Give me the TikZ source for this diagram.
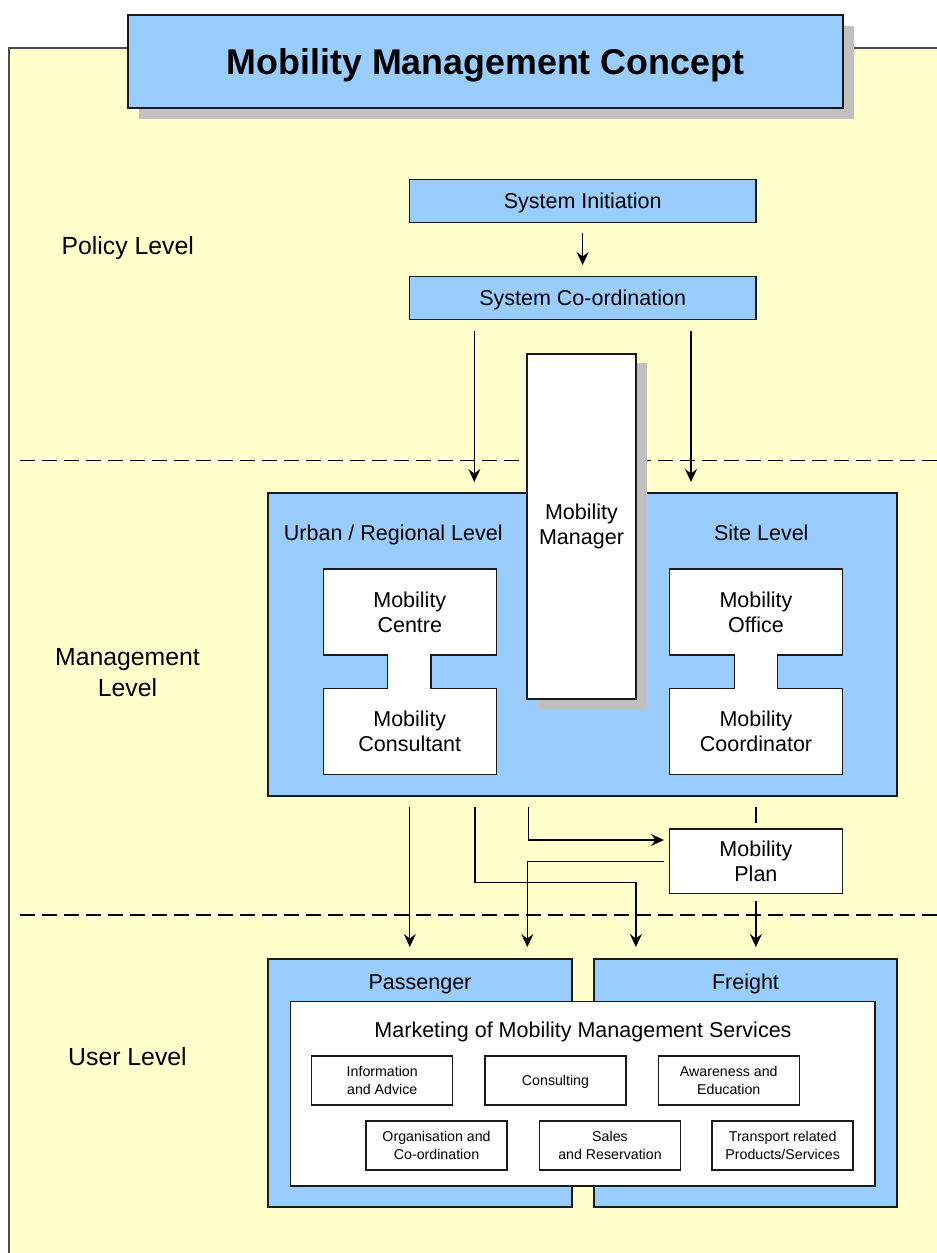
\documentclass[tikz,border=0pt]{standalone}
\usepackage{fontspec}
\setmainfont{Liberation Sans}
\usetikzlibrary{arrows.meta}

\definecolor{paper}{HTML}{FFFFCC}
\definecolor{panel}{HTML}{99CCFF}
\definecolor{dropgray}{HTML}{C0C0C0}
\definecolor{rim}{HTML}{1A1A1A}

\begin{document}
\begin{tikzpicture}[x=1pt,y=-1pt,
  box/.style={draw=rim, line width=1.4pt, inner sep=0pt, outer sep=0pt},
  bluebox/.style={box, fill=panel},
  whitebox/.style={box, fill=white},
  txt/.style={inner sep=0pt, font=\fontsize{21.5}{25}\selectfont, align=center},
  levelname/.style={inner sep=0pt, font=\fontsize{24.8}{31}\selectfont, align=center},
  oneline/.style={text height=15.4pt, text depth=0pt},
  small/.style={inner sep=0pt, font=\fontsize{14.2}{17.5}\selectfont, align=center},
  conn/.style={line width=1.3pt, draw=black},
  arr/.style={conn, -{Stealth[length=13pt,width=12pt,inset=4.5pt]}},
  divider/.style={line width=1.2pt, draw=black, dash pattern=on 15pt off 7pt},
]
\useasboundingbox (0,0) rectangle (937,1253);

% sheet
\fill[paper] (9,48) rectangle (945,1260);
\draw[line width=1.5pt, draw=black!70] (9,1260) -- (9,48) -- (945,48);

% title
\fill[dropgray] (139,26) rectangle (854,119);
\node[bluebox, minimum width=715pt, minimum height=93pt,
      font=\fontsize{35.8}{40}\selectfont\bfseries, text height=25.5pt, text depth=0pt]
  (title) at (485.5,61.5) {Mobility Management Concept};

% level separators
\draw[divider] (20,460.7) -- (945,460.7);
\draw[divider] (20,915) -- (945,915);

% level names
\node[levelname, anchor=base] (policy) at (127.8,254) {Policy Level};
\node[levelname] (mlevel) at (127.5,672.7) {Management\\Level};
\node[levelname, anchor=base] (user) at (127.5,1065.5) {User Level};

% policy level
\node[bluebox, txt, oneline, minimum width=346.7pt, minimum height=43pt]
  (init) at (582.65,200.8) {System Initiation};
\node[bluebox, txt, oneline, minimum width=346.7pt, minimum height=43pt]
  (coord) at (582.65,298.2) {System Co-ordination};
\draw[arr, shorten <=10.7pt, shorten >=11.7pt] (init.south) -- (coord.north);

% management level
\node[bluebox, minimum width=629pt, minimum height=303pt] (mgmt) at (582.5,644.5) {};
\node[txt, anchor=base] (urban) at (393.3,540) {Urban / Regional Level};
\node[txt, anchor=base] (site) at (761.3,540) {Site Level};

\draw[whitebox] (323.3,569) -- (496.3,569) -- (496.3,655) -- (431,655) -- (431,688.3)
  -- (496.3,688.3) -- (496.3,774.3) -- (323.3,774.3) -- (323.3,688.3) -- (387.7,688.3)
  -- (387.7,655) -- (323.3,655) -- cycle;
\node[txt] (centre) at (409.8,612) {Mobility\\Centre};
\node[txt] (consultant) at (409.8,731.3) {Mobility\\Consultant};

\draw[whitebox] (669.3,569) -- (842.7,569) -- (842.7,655) -- (777.3,655) -- (777.3,688.3)
  -- (842.7,688.3) -- (842.7,774.3) -- (669.3,774.3) -- (669.3,688.3) -- (734.7,688.3)
  -- (734.7,655) -- (669.3,655) -- cycle;
\node[txt] (office) at (756,612) {Mobility\\Office};
\node[txt] (coordinator) at (756,731.3) {Mobility\\Coordinator};

\fill[dropgray] (538,363) rectangle (647,710);
\node[whitebox, txt, minimum width=109pt, minimum height=345pt]
  (manager) at (581.5,526.5) {Mobility\\Manager};

% column positions of the connectors
\coordinate (xa) at (474.3,0);
\coordinate (xb) at (691,0);
\coordinate (xc1) at (409.8,0);
\coordinate (xc2) at (475.1,0);
\coordinate (xc3) at (635.9,0);
\coordinate (xc4) at (528.6,0);
\coordinate (xc5) at (527.3,0);
\coordinate (yl2) at (0,882.7);
\coordinate (yl3) at (0,840);

\draw[arr, shorten <=11pt, shorten >=11pt] (coord.south -| xa) -- (mgmt.north -| xa);
\draw[arr, shorten <=11pt, shorten >=11pt] (coord.south -| xb) -- (mgmt.north -| xb);

% mobility plan
\node[whitebox, txt, minimum width=173pt, minimum height=64.7pt]
  (plan) at (755.9,861.35) {Mobility\\Plan};

% user level
\node[bluebox, minimum width=304pt, minimum height=248pt] (passenger) at (420,1083) {};
\node[bluebox, minimum width=303pt, minimum height=248pt] (freight) at (745.5,1083) {};
\node[txt, anchor=base] (passlbl) at (420,989.4) {Passenger};
\node[txt, anchor=base] (frlbl) at (745.5,989.4) {Freight};

\node[whitebox, minimum width=584.5pt, minimum height=184.3pt] (marketing) at (582.85,1093.85) {};
\node[txt, anchor=base] (mktlbl) at (583,1037.2) {Marketing of Mobility Management Services};

\node[whitebox, small, minimum width=141pt, minimum height=49pt] (info) at (382.25,1080.5) {Information\\and Advice};
\node[whitebox, small, minimum width=141pt, minimum height=49pt, text height=10.2pt, text depth=0pt] (consult) at (555.5,1080.5) {Consulting};
\node[whitebox, small, minimum width=141pt, minimum height=49pt] (aware) at (728.8,1080.5) {Awareness and\\Education};
\node[whitebox, small, minimum width=141pt, minimum height=49pt] (organ) at (436.55,1145.5) {Organisation and\\Co-ordination};
\node[whitebox, small, minimum width=141pt, minimum height=49pt] (sales) at (610,1145.5) {Sales\\and Reservation};
\node[whitebox, small, minimum width=141pt, minimum height=49pt] (transp) at (782.65,1145.5) {Transport related\\Products/Services};

% connectors from the management level
\draw[arr, shorten <=11pt, shorten >=12pt] (mgmt.south -| xc1) -- (passenger.north -| xc1);
\draw[arr, shorten <=11pt, shorten >=12pt] (mgmt.south -| xc2) -- (xc2 |- yl2) -- (xc3 |- yl2) -- (freight.north -| xc3);
\draw[arr, shorten <=11pt, shorten >=5.4pt] (mgmt.south -| xc4) -- (xc4 |- yl3) -- (plan.west |- yl3);
\draw[arr, shorten <=5.4pt, shorten >=12pt] (plan.west) -- (xc5 |- plan.west) -- (passenger.north -| xc5);
\draw[conn, shorten <=11pt, shorten >=6pt] (mgmt.south -| plan.north) -- (plan.north);
\draw[arr, shorten <=7pt, shorten >=12pt] (plan.south) -- (freight.north -| plan.south);

\end{tikzpicture}
\end{document}
